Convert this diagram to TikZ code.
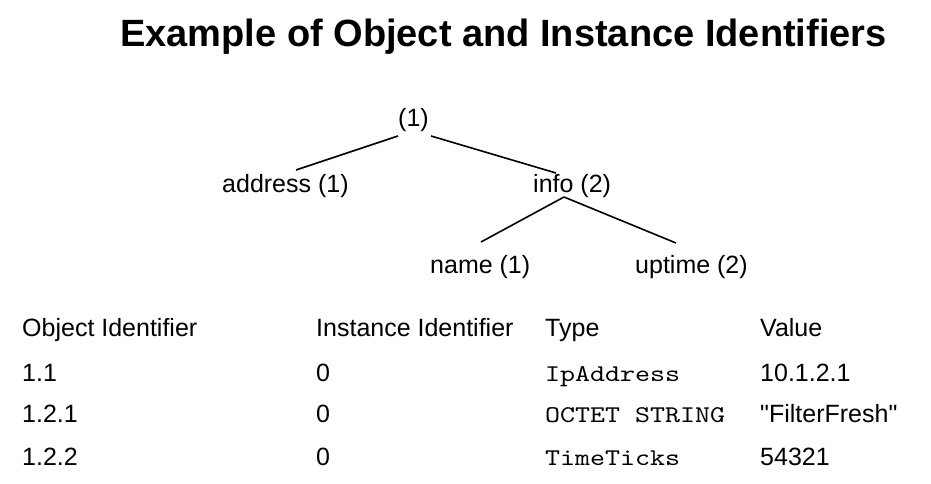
\documentclass[tikz,border=0pt]{standalone}
\usepackage{fontspec}
\setmainfont{Liberation Sans}[Ligatures=TeXOff]
\setmonofont{lmmono10-regular.otf}[FakeStretch=1.19]
\begin{document}
\begin{tikzpicture}[x=1pt,y=-1pt,
  lbl/.style={inner sep=0pt,anchor=base west,font=\fontsize{25}{30}\selectfont},
  mono/.style={inner sep=0pt,anchor=base west,font=\fontsize{24}{30}\selectfont\ttfamily},
  edge/.style={line width=1.6pt}]
\useasboundingbox (0,0) rectangle (931,484);
\node[inner sep=0pt,anchor=base west,font=\fontsize{38}{44}\selectfont\bfseries] (title) at (120,47) {Example of Object and Instance Identifiers};
% tree
\node[lbl] (root) at (398,127) {(1)};
\node[lbl] (addr) at (222,192) {address (1)};
\node[lbl] (info) at (533,192) {info (2)};
\node[lbl] (name) at (430,273) {name (1)};
\node[lbl] (up) at (635,273) {uptime (2)};
\coordinate (rl) at (398,136);
\coordinate (rr) at (431,136);
\coordinate (at) at (296,170);
\coordinate (it) at (556,173);
\coordinate (ib) at (564,197);
\coordinate (nt) at (481,242);
\coordinate (ut) at (676,243);
\draw[edge] (rl) -- (at);
\draw[edge] (rr) -- (it);
\draw[edge] (ib) -- (nt);
\draw[edge] (ib) -- (ut);
% table
\node[lbl] (h1) at (22,336) {Object Identifier};
\node[lbl] (h2) at (316,336) {Instance Identifier};
\node[lbl] (h3) at (545,336) {Type};
\node[lbl] (h4) at (760,336) {Value};
\node[lbl] (a1) at (22,381) {1.1};
\node[lbl] (a2) at (316,381) {0};
\node[mono] (a3) at (545,381) {IpAddress};
\node[lbl] (a4) at (760,381) {10.1.2.1};
\node[lbl] (b1) at (22,422) {1.2.1};
\node[lbl] (b2) at (316,422) {0};
\node[mono] (b3) at (545,422) {OCTET STRING};
\node[lbl] (b4) at (760,422) {"FilterFresh"};
\node[lbl] (c1) at (22,465) {1.2.2};
\node[lbl] (c2) at (316,465) {0};
\node[mono] (c3) at (545,465) {TimeTicks};
\node[lbl] (c4) at (760,465) {54321};
\end{tikzpicture}
\end{document}
